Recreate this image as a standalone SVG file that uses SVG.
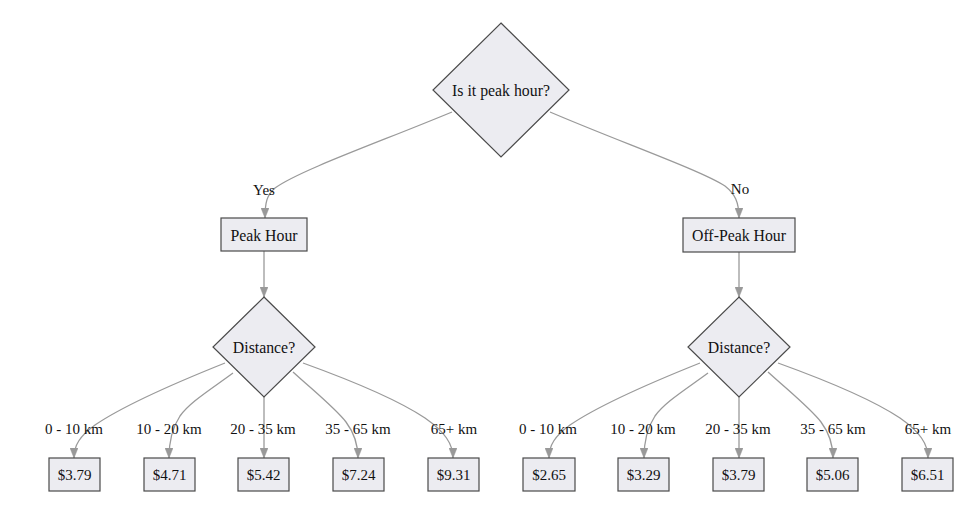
<svg xmlns="http://www.w3.org/2000/svg" width="974" height="517" viewBox="0 0 974 517">
  <defs>
    <marker id="arrow" viewBox="0 0 10 8" refX="10" refY="4" markerWidth="10" markerHeight="8" markerUnits="userSpaceOnUse" orient="auto">
      <path d="M0,0 L10,4 L0,8 Z" fill="#999999" stroke="#999999" stroke-width="0.5"/>
    </marker>
    <style>
      text { font-family: "Liberation Serif", "Times New Roman", serif; font-size: 15px; fill: #111111; text-anchor: middle; }
      .big { font-size: 15.8px; }
      .node-shape { fill: #ececf1; stroke: #4a4a4a; stroke-width: 1.2; }
      .edge { fill: none; stroke: #9a9a9a; stroke-width: 1.3; marker-end: url(#arrow); }
    </style>
  </defs>

  <rect width="974" height="517" fill="#ffffff"/>

  <!-- connectors -->
  <g id="edges">
    <path class="edge" d="M452,112 C380,142 300,170 275,188 C267,195 265,202 265,218"/>
    <path class="edge" d="M550,112 C620,142 700,170 725,186 C735,194 739,202 739,218"/>
    <path class="edge" d="M264,251 L264,297"/>
    <path class="edge" d="M739,252 L739,297"/>

    <!-- peak hour distances -->
    <path class="edge" d="M225,363 C170,385 120,408 95,425 C80,436 74,445 74,458"/>
    <path class="edge" d="M233,373 C210,390 190,402 180,416 C172,428 169,440 169,458"/>
    <path class="edge" d="M264,397 L264,458"/>
    <path class="edge" d="M293,372 C315,392 335,408 346,422 C355,434 358,445 358,458"/>
    <path class="edge" d="M303,363 C350,380 395,398 425,418 C445,432 453,444 453,458"/>

    <!-- off-peak distances -->
    <path class="edge" d="M700,363 C645,385 595,408 570,425 C555,436 549,445 549,458"/>
    <path class="edge" d="M708,373 C685,390 665,402 655,416 C647,428 644,440 644,458"/>
    <path class="edge" d="M739,397 L739,458"/>
    <path class="edge" d="M768,372 C790,392 810,408 821,422 C830,434 833,445 833,458"/>
    <path class="edge" d="M778,363 C825,380 870,398 900,418 C920,432 928,444 928,458"/>

    <!-- edge labels -->
    <text x="264" y="195">Yes</text>
    <text x="740" y="194">No</text>
    <text x="74" y="434">0 - 10 km</text>
    <text x="169" y="434">10 - 20 km</text>
    <text x="263" y="434">20 - 35 km</text>
    <text x="358" y="434">35 - 65 km</text>
    <text x="454" y="434">65+ km</text>
    <text x="548" y="434">0 - 10 km</text>
    <text x="643" y="434">10 - 20 km</text>
    <text x="738" y="434">20 - 35 km</text>
    <text x="833" y="434">35 - 65 km</text>
    <text x="928" y="434">65+ km</text>
  </g>

  <!-- decision nodes -->
  <g id="peak-question">
    <polygon class="node-shape" points="501,23 569,90 501,157 433,90"/>
    <text class="big" x="501" y="96">Is it peak hour?</text>
  </g>
  <g id="peak-hour">
    <rect class="node-shape" x="221" y="218" width="86" height="33"/>
    <text class="big" x="264" y="241">Peak Hour</text>
  </g>
  <g id="offpeak-hour">
    <rect class="node-shape" x="683" y="218" width="112" height="34"/>
    <text class="big" x="739" y="241">Off-Peak Hour</text>
  </g>
  <g id="peak-distance">
    <polygon class="node-shape" points="264,297 315,347 264,397 213,347"/>
    <text class="big" x="264" y="353">Distance?</text>
  </g>
  <g id="offpeak-distance">
    <polygon class="node-shape" points="739,297 790,347 739,397 688,347"/>
    <text class="big" x="739" y="353">Distance?</text>
  </g>

  <!-- fare leaves -->
  <g id="peak-0-10"><rect class="node-shape" x="49" y="458" width="51" height="33"/><text x="74.5" y="480">$3.79</text></g>
  <g id="peak-10-20"><rect class="node-shape" x="144" y="458" width="51" height="33"/><text x="169.5" y="480">$4.71</text></g>
  <g id="peak-20-35"><rect class="node-shape" x="238" y="458" width="51" height="33"/><text x="263.5" y="480">$5.42</text></g>
  <g id="peak-35-65"><rect class="node-shape" x="333" y="458" width="51" height="33"/><text x="358.5" y="480">$7.24</text></g>
  <g id="peak-65"><rect class="node-shape" x="428" y="458" width="51" height="33"/><text x="453.5" y="480">$9.31</text></g>
  <g id="offpeak-0-10"><rect class="node-shape" x="523" y="458" width="52" height="33"/><text x="549" y="480">$2.65</text></g>
  <g id="offpeak-10-20"><rect class="node-shape" x="618" y="458" width="51" height="33"/><text x="643.5" y="480">$3.29</text></g>
  <g id="offpeak-20-35"><rect class="node-shape" x="713" y="458" width="51" height="33"/><text x="738.5" y="480">$3.79</text></g>
  <g id="offpeak-35-65"><rect class="node-shape" x="807" y="458" width="51" height="33"/><text x="832.5" y="480">$5.06</text></g>
  <g id="offpeak-65"><rect class="node-shape" x="902" y="458" width="51" height="33"/><text x="927.5" y="480">$6.51</text></g>
</svg>
